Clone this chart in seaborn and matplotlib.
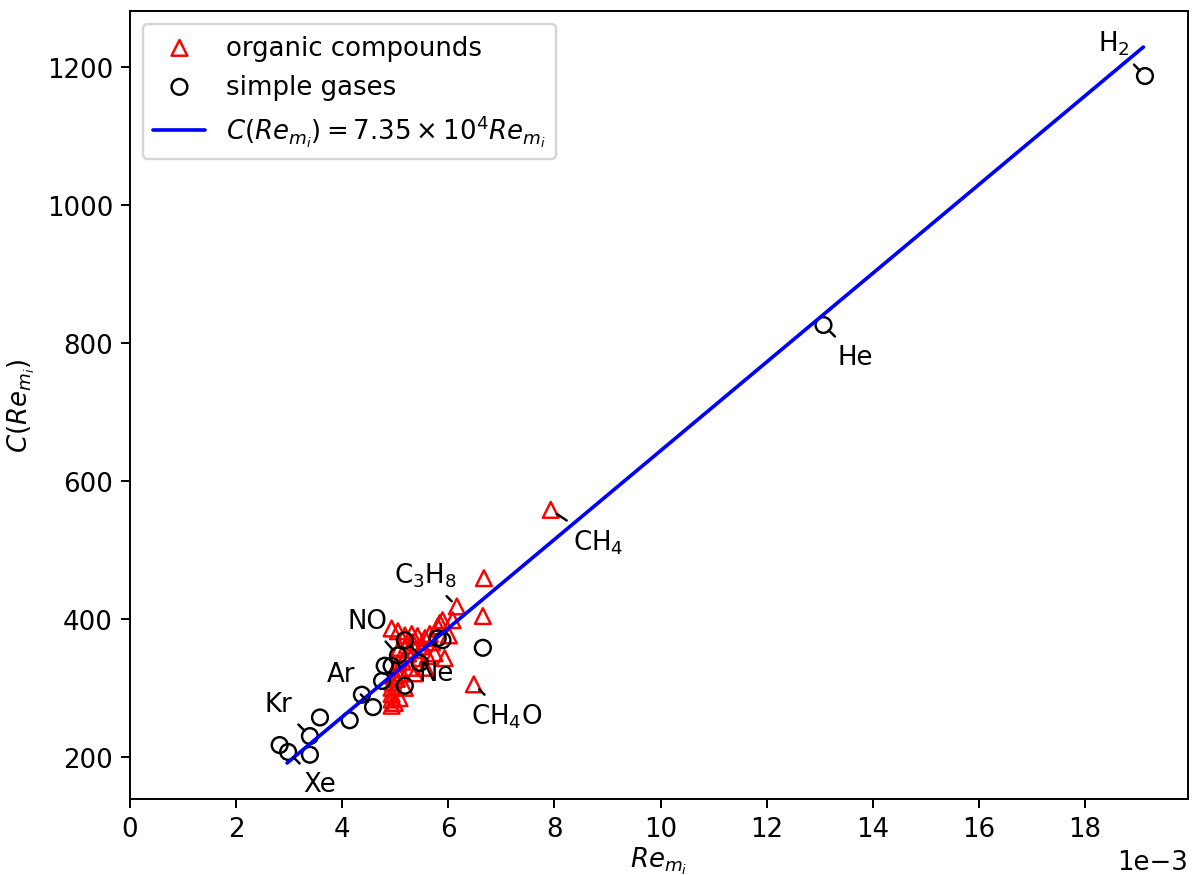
import numpy as np
import pandas as pd
import seaborn as sns
import matplotlib.pyplot as plt
from matplotlib.ticker import MultipleLocator

# Re values are given in units of 1e-3
org_re = [7.93, 6.67, 6.65, 6.16, 6.48, 6.08, 5.84, 6.01, 5.93, 5.89,
          4.93, 5.05, 5.18, 5.31, 5.42, 5.56, 5.69, 5.80,
          5.08, 5.24, 5.37, 5.46, 5.61, 5.74, 5.27, 5.12, 5.05, 5.37, 5.57,
          5.18, 5.08, 4.99, 4.93, 4.93, 4.93, 4.93, 4.95, 4.97, 5.01, 5.03,
          5.14, 5.22, 5.33, 5.50, 5.65]
org_c = [558, 459, 404, 418, 305, 398, 394, 376, 343, 398,
         386, 382, 376, 378, 375, 372, 366, 389,
         358, 350, 355, 343, 346, 350, 329, 321, 336, 321, 329,
         300, 285, 278, 274, 283, 291, 300, 308, 317, 327, 313,
         338, 362, 366, 360, 378]

gas_re = [19.13, 13.07, 6.65, 5.80, 5.89, 5.46, 5.18, 5.18, 5.05, 4.93,
          4.80, 4.75, 4.58, 4.37, 4.14, 3.58, 3.39, 3.39, 2.98, 2.82]
gas_c = [1187, 826, 358, 372, 369, 336, 303, 369, 347, 332,
         332, 310, 272, 290, 253, 257, 230, 203, 207, 217]

fit_re = [2.96, 19.1]
fit_c = [191, 1229]

labels = ['H$_2$', 'He', 'CH$_4$', 'C$_3$H$_8$', 'NO', 'Ne', 'CH$_4$O', 'Ar', 'Kr', 'Xe']
label_re = [19.13, 13.07, 7.93, 6.16, 5.05, 5.18, 6.48, 4.58, 3.39, 2.98]
label_c = [1187, 826, 558, 418, 347, 369, 305, 272, 230, 207]
label_dx = [-13, 13, 19.5, -13, -12.5, 13, 13.5, -13, -13, 13]
label_dy = [13.5, -13, -13, 13, 14, -13.5, -13, 13.5, 13, -13]

org = pd.DataFrame({'Re': np.array(org_re) * 1e-3, 'C': org_c})
gas = pd.DataFrame({'Re': np.array(gas_re) * 1e-3, 'C': gas_c})
fit = pd.DataFrame({'Re': np.array(fit_re) * 1e-3, 'C': fit_c})

sns.set_style('ticks', {'axes.edgecolor': 'black', 'xtick.color': 'black',
                        'ytick.color': 'black', 'text.color': 'black',
                        'axes.labelcolor': 'black'})
plt.rcParams['font.family'] = ['DejaVu Sans']
plt.rcParams['font.size'] = 10.7

dpi = 175
fig, ax = plt.subplots(figsize=(1193 / dpi, 876 / dpi), dpi=dpi)
fig.subplots_adjust(left=0.109, right=0.996, bottom=0.087, top=0.986)

sns.scatterplot(data=org, x='Re', y='C', marker='^', s=42, facecolors='none',
                edgecolor='red', linewidth=1, label='organic compounds', ax=ax)
sns.scatterplot(data=gas, x='Re', y='C', marker='o', s=42, facecolors='none',
                edgecolor='black', linewidth=1, label='simple gases', ax=ax)
sns.lineplot(data=fit, x='Re', y='C', color='blue', linewidth=1.5,
             label=r'$C(Re_{m_i}) = 7.35 \times 10^4 Re_{m_i}$', ax=ax)

for name, lx, ly, dx, dy in zip(labels, label_re, label_c, label_dx, label_dy):
    ax.annotate(name, xy=(lx * 1e-3, ly), xytext=(dx, dy), textcoords='offset points',
                ha='center', va='center', fontsize=10.7,
                arrowprops=dict(arrowstyle='-', color='black', lw=1,
                                shrinkA=1, shrinkB=3))

ax.set_xlim(left=0)
ax.xaxis.set_major_locator(MultipleLocator(0.002))
ax.ticklabel_format(axis='x', style='sci', scilimits=(-3, -3))
ax.tick_params(labelsize=10.7)
ax.set_xlabel(r'$Re_{m_i}$', fontsize=10.7, labelpad=1)
ax.set_ylabel(r'$C(Re_{m_i})$', fontsize=10.7)
ax.legend(loc='upper left', fontsize=10.7)

plt.savefig('out.png', dpi=dpi)
